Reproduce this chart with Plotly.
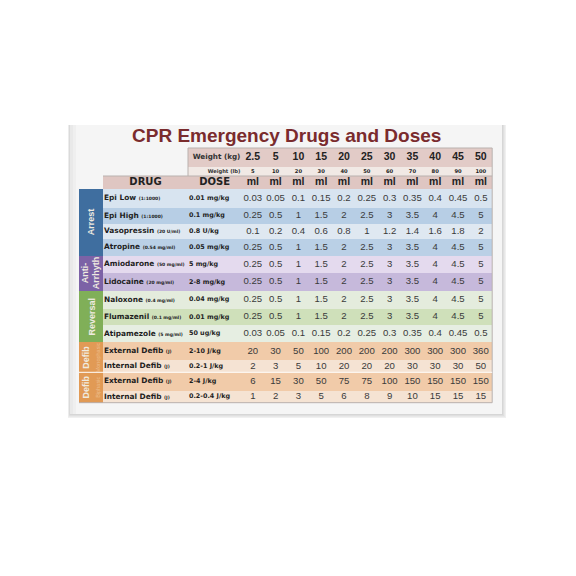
import plotly.graph_objects as go

TITLE = "CPR Emergency Drugs and Doses"
weights_kg = ["2.5", "5", "10", "15", "20", "25", "30", "35", "40", "45", "50"]
weights_lb = ["5", "10", "20", "30", "40", "50", "60", "70", "80", "90", "100"]
drugs = ["Epi Low", "Epi High", "Vasopressin", "Atropine", "Amiodarone", "Lidocaine", "Naloxone",
         "Flumazenil", "Atipamezole", "External Defib", "Internal Defib", "External Defib", "Internal Defib"]
concentrations = ["(1:1000)", "(1:1000)", "(20 U/ml)", "(0.54 mg/ml)", "(50 mg/ml)", "(20 mg/ml)", "(0.4 mg/ml)",
                  "(0.1 mg/ml)", "(5 mg/ml)", "(J)", "(J)", "(J)", "(J)"]
doses = ["0.01 mg/kg", "0.1 mg/kg", "0.8 U/kg", "0.05 mg/kg", "5 mg/kg", "2-8 mg/kg", "0.04 mg/kg",
         "0.01 mg/kg", "50 ug/kg", "2-10 J/kg", "0.2-1 J/kg", "2-4 J/kg", "0.2-0.4 J/kg"]
epi_low = ["0.03", "0.05", "0.1", "0.15", "0.2", "0.25", "0.3", "0.35", "0.4", "0.45", "0.5"]
epi_high = ["0.25", "0.5", "1", "1.5", "2", "2.5", "3", "3.5", "4", "4.5", "5"]
vasopressin = ["0.1", "0.2", "0.4", "0.6", "0.8", "1", "1.2", "1.4", "1.6", "1.8", "2"]
ext_mono = ["20", "30", "50", "100", "200", "200", "200", "300", "300", "300", "360"]
int_mono = ["2", "3", "5", "10", "20", "20", "20", "30", "30", "30", "50"]
ext_bi = ["6", "15", "30", "50", "75", "75", "100", "150", "150", "150", "150"]
int_bi = ["1", "2", "3", "5", "6", "8", "9", "10", "15", "15", "15"]
rows = [epi_low, epi_high, vasopressin, epi_high, epi_high, epi_high, epi_high, epi_high, epi_low,
        ext_mono, int_mono, ext_bi, int_bi]
row_colors = ["#D8E4F0", "#B7CEE5", "#DFE8F1", "#BAD0E6", "#E4DAEE", "#C6B9DB", "#E4ECDD", "#CFE0BA", "#E6EEE2",
              "#F1CBA9", "#F5E3D3", "#F1CBA9", "#F5E3D3"]
groups = ["<b>Arrest</b>", "<b>Anti-<br>Arrhyth</b>", "<b>Reversal</b>",
          "<b>Defib</b><br><span style='font-size:5.5px;color:#EDBE8F'>Monophasic</span>",
          "<b>Defib</b><br><span style='font-size:5.5px;color:#EDBE8F'>Biphasic</span>"]
group_spans = [(0, 3), (4, 5), (6, 8), (9, 10), (11, 12)]
group_colors = ["#3F6E9F", "#7C62A6", "#80AF58", "#E19A55", "#E19A55"]

# layout geometry (page pixels)
PAGE_OFFSET = 8
COL_W = 22.8
col_edges = [79, 103, 188, 241.4] + [241.4 + COL_W * (i + 1) for i in range(11)]
head_edges = [148, 167, 176, 189]
body_edges = [189, 207.5, 224, 239.3, 255.7, 273.3, 290.7, 308.7, 325.3, 342.3, 360, 372.3, 390.7, 402.7]
y_edges = head_edges + body_edges[1:]
n_h = len(head_edges) - 1
n_b = len(drugs)
centers_x = [(col_edges[i] + col_edges[i + 1]) / 2 for i in range(len(col_edges) - 1)]
val_x = centers_x[3:]
row_y = [(body_edges[i] + body_edges[i + 1]) / 2 for i in range(n_b)]
head_y = [(head_edges[i] + head_edges[i + 1]) / 2 for i in range(n_h)]

# colour index table for the heatmap
palette = ["#E2CBC7", "#F1E9E5", "#DFC6C2"] + row_colors + group_colors
N = len(palette)
scale = []
for i, c in enumerate(palette):
    scale += [[i / N, c], [(i + 1) / N, c]]

n_cols = len(col_edges) - 1
z = [[None, None] + [0.5] * (n_cols - 2),
     [None, None] + [1.5] * (n_cols - 2),
     [None] + [2.5] * (n_cols - 1)]
for r in range(n_b):
    g = next(k for k, (a, b) in enumerate(group_spans) if a <= r <= b)
    z.append([3 + n_b + g + 0.5] + [3 + r + 0.5] * (n_cols - 1))

fig = go.Figure()

# card and its soft shadow
shapes = []
for grow, col in [(4, "#F0F0F0"), (3, "#E8E8E8"), (2, "#DFDFDF"), (1, "#D6D6D6")]:
    shapes.append(dict(type="rect", x0=70 - grow / 2, x1=502 + grow, y0=125, y1=414 + grow,
                       fillcolor=col, line_width=0, layer="below"))
shapes.append(dict(type="rect", x0=70, x1=502, y0=125, y1=414, fillcolor="#F5F5F5", line_width=0, layer="below"))
shapes.append(dict(type="rect", x0=70, x1=73, y0=125, y1=414, fillcolor="#E9E9E9", line_width=0, layer="below"))
shapes.append(dict(type="rect", x0=73, x1=76, y0=125, y1=414, fillcolor="#EFEFEF", line_width=0, layer="below"))

fig.add_trace(go.Heatmap(x=col_edges, y=y_edges, z=z, zmin=0, zmax=N, colorscale=scale, showscale=False,
                         hoverinfo="skip", xgap=0, ygap=0))

# table rules
BORDER = "#B9B1AE"
for x0, x1, y0, y1, color in [
    (col_edges[2], col_edges[-1], head_edges[0], head_edges[0], BORDER),
    (col_edges[2], col_edges[2], head_edges[0], head_edges[2], BORDER),
    (col_edges[1], col_edges[-1], head_edges[2], head_edges[2], BORDER),
    (col_edges[-1], col_edges[-1], head_edges[0], body_edges[-1], BORDER),
    (col_edges[0], col_edges[-1], body_edges[-1], body_edges[-1], BORDER),
    (col_edges[0], col_edges[-1], body_edges[11], body_edges[11], "#FFFFFF"),
]:
    shapes.append(dict(type="line", x0=x0, x1=x1, y0=y0, y1=y1, line=dict(color=color, width=1)))

SANS = "Liberation Sans"
WIDE = "DejaVu Sans"
DARK = "#2A2A2A"

def text_trace(x, y, text, size, color=DARK, family=SANS, pos="middle center"):
    fig.add_trace(go.Scatter(x=x, y=y, text=text, mode="text", textposition=pos, hoverinfo="skip",
                             textfont=dict(family=family, size=size, color=color)))

# value cells
for r, vals in enumerate(rows):
    text_trace(val_x, [row_y[r]] * len(val_x), vals, 9.6, color="#3A3A3A")

# header cells
text_trace(val_x, [head_y[0]] * 11, [f"<b>{w}</b>" for w in weights_kg], 10.5, color="#222222")
text_trace(val_x, [head_y[1]] * 11, [f"<b>{w}</b>" for w in weights_lb], 5.2, color="#222222", family=WIDE)
text_trace(val_x, [head_y[2]] * 11, ["<b>ml</b>"] * 11, 10.5, color="#222222")
text_trace([centers_x[1]], [head_y[2]], ["<b>DRUG</b>"], 10, color="#222222", family=WIDE)
text_trace([centers_x[2]], [head_y[2]], ["<b>DOSE</b>"], 10, color="#222222", family=WIDE)
text_trace([col_edges[3] - 1], [head_y[0]], ["<b>Weight (kg)</b>"], 7.2, color="#333333", family=WIDE, pos="middle left")
text_trace([col_edges[3] - 1], [head_y[1]], ["<b>Weight (lb)</b>"], 5.2, color="#333333", family=WIDE, pos="middle left")

# drug and dose columns
labels = [f"<b>{d} <span style='font-size:4.5px'>{c}</span></b>" for d, c in zip(drugs, concentrations)]
text_trace([col_edges[1] + 1] * n_b, row_y, labels, 7.4, color="#1E1E1E", family=WIDE, pos="middle right")
text_trace([col_edges[2] + 1] * n_b, row_y, [f"<b>{d}</b>" for d in doses], 6.4, color="#1E1E1E", family=WIDE, pos="middle right")

annotations = [dict(x=286.5, y=135.7, text=f"<b>{TITLE}</b>", showarrow=False,
                    xref="x", yref="y", font=dict(family=SANS, size=19, color="#7A2B2D"))]
for label, (a, b) in zip(groups, group_spans):
    annotations.append(dict(x=centers_x[0], y=(body_edges[a] + body_edges[b + 1]) / 2, text=label, textangle=-90,
                            showarrow=False, xref="x", yref="y", align="center",
                            font=dict(family=SANS, size=9, color="#EFEBE0")))

fig.update_layout(width=576, height=576, margin=dict(l=0, r=0, t=0, b=0), paper_bgcolor="#FFFFFF",
                  plot_bgcolor="#FFFFFF", showlegend=False, shapes=shapes, annotations=annotations,
                  xaxis=dict(range=[PAGE_OFFSET, 576 + PAGE_OFFSET], visible=False, fixedrange=True),
                  yaxis=dict(range=[576 + PAGE_OFFSET, PAGE_OFFSET], visible=False, fixedrange=True))
fig.write_html("out.html", config={"displayModeBar": False, "responsive": False})
